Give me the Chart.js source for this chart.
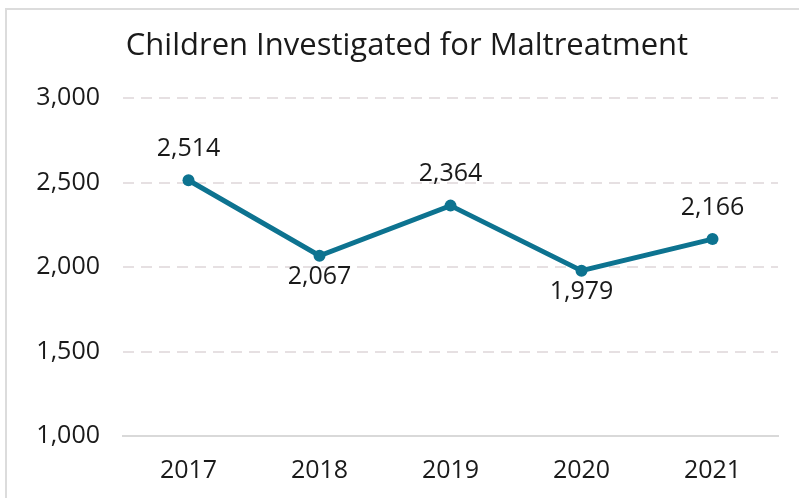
<!DOCTYPE html>
<html>
<head>
<meta charset="utf-8">
<script src="https://cdn.jsdelivr.net/npm/chart.js@4.4.0/dist/chart.umd.min.js"></script>
<style>
    html, body { margin: 0; padding: 0; background: #fff; overflow: hidden; }
    #wrap { position: relative; width: 799px; height: 498px; }
    #frame {
        position: absolute; left: 5px; top: 8px; width: 820px; height: 520px;
        border: 2px solid #dcdcdc; box-sizing: border-box;
    }
    canvas { position: absolute; left: 0; top: 0; }
</style>
</head>
<body>
<div id="wrap">
    <div id="frame"></div>
    <canvas id="chart" width="799" height="498"></canvas>
</div>
<script>
// Chart data
const years = ['2017', '2018', '2019', '2020', '2021'];
const investigated = [2514, 2067, 2364, 1979, 2166];
const yTicks = [1000, 1500, 2000, 2500, 3000];

const FONT = '"Open Sans", sans-serif';
const LINE_COLOR = '#0d7390';

// Value labels: above the point, or below when the point is a dip
const valueLabels = {
    id: 'valueLabels',
    afterDatasetsDraw(chart) {
        const ctx = chart.ctx;
        const meta = chart.getDatasetMeta(0);
        const data = chart.data.datasets[0].data;
        ctx.save();
        ctx.font = '25px ' + FONT;
        ctx.fillStyle = '#1a1a1a';
        ctx.textAlign = 'center';
        meta.data.forEach((pt, i) => {
            const prev = i > 0 ? data[i - 1] : -Infinity;
            const next = i < data.length - 1 ? data[i + 1] : -Infinity;
            const dip = data[i] < prev && data[i] < next && i > 0;
            const text = data[i].toLocaleString('en-US');
            if (dip) {
                ctx.textBaseline = 'top';
                ctx.fillText(text, pt.x, pt.y + 9);
            } else {
                ctx.textBaseline = 'bottom';
                ctx.fillText(text, pt.x, pt.y - 19);
            }
        });
        ctx.restore();
    }
};

function initChart() {
    const ctx = document.getElementById('chart').getContext('2d');
    new Chart(ctx, {
        type: 'line',
        data: {
            labels: years,
            datasets: [{
                data: investigated,
                borderColor: LINE_COLOR,
                backgroundColor: LINE_COLOR,
                borderWidth: 5,
                pointRadius: 6,
                pointBackgroundColor: LINE_COLOR,
                pointBorderWidth: 0,
                tension: 0
            }]
        },
        options: {
            responsive: false,
            animation: false,
            layout: { padding: { left: 36, right: 21, top: 0, bottom: 10 } },
            plugins: {
                legend: { display: false },
                tooltip: { enabled: false },
                title: {
                    display: true,
                    text: 'Children Investigated for Maltreatment',
                    color: '#1a1a1a',
                    font: { family: FONT, size: 31, weight: 'normal' },
                    padding: { top: 28, bottom: 33 }
                }
            },
            scales: {
                x: {
                    offset: true,
                    grid: { display: false, drawTicks: false },
                    border: { display: true, color: '#d9d9d9', width: 2 },
                    ticks: {
                        color: '#1a1a1a',
                        padding: 20,
                        font: { family: FONT, size: 25 }
                    },
                    afterFit: (scale) => { scale.height = 52; }
                },
                y: {
                    min: 1000,
                    max: 3000,
                    afterBuildTicks: (scale) => { scale.ticks = yTicks.map(v => ({ value: v })); },
                    grid: {
                        drawTicks: false,
                        lineWidth: 2,
                        color: (c) => c.tick && c.tick.value === 1000 ? 'rgba(0,0,0,0)' : '#e6e0e2'
                    },
                    border: { display: false, dash: [11, 7] },
                    ticks: {
                        color: '#1a1a1a',
                        padding: 23,
                        font: { family: FONT, size: 25 },
                        callback: (v) => Number(v).toLocaleString('en-US')
                    },
                    afterFit: (scale) => { scale.width = 87; }
                }
            }
        },
        plugins: [valueLabels]
    });
}

document.addEventListener('DOMContentLoaded', initChart);
</script>
</body>
</html>
